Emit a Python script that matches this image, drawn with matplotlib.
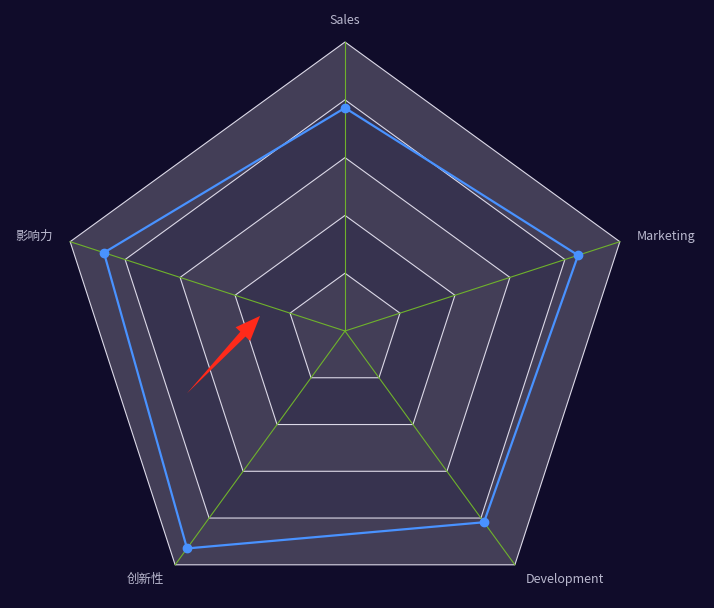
import numpy as np
import matplotlib.pyplot as plt
from matplotlib.patches import Polygon

plt.rcParams['font.family'] = ['Noto Sans CJK SC', 'DejaVu Sans']

# radar data (fraction of each indicator's max)
indicators = ['Sales', 'Marketing', 'Development', '创新性', '影响力']
values = [0.772, 0.848, 0.818, 0.93, 0.877]
levels = [0.2, 0.4, 0.6, 0.8, 1.0]

bg = '#100c2a'
band_light = '#433e57'
band_dark = '#37334f'
axis_green = '#6fb22c'
split_color = '#dcd9e8'
line_blue = '#4992ff'
label_color = '#b9b8ce'

W, H = 714, 608
cx, cy, R = 345, 331, 289  # radar centre / radius in pixels

fig = plt.figure(figsize=(W / 100, H / 100), dpi=100, facecolor=bg)
ax = fig.add_axes([0, 0, 1, 1])
ax.set_facecolor(bg)
ax.set_xlim(-cx / R, (W - cx) / R)
ax.set_ylim(-(H - cy) / R, cy / R)
ax.axis('off')

n = len(indicators)
ang = np.deg2rad(90 - 360 / n * np.arange(n))
ux, uy = np.cos(ang), np.sin(ang)

# split areas, drawn from outside in
for i in range(len(levels) - 1, -1, -1):
    r = levels[i]
    color = band_light if i % 2 == 0 else band_dark
    ax.add_patch(Polygon(np.c_[ux * r, uy * r], closed=True, facecolor=color,
                         edgecolor='none', zorder=1))
for r in levels:
    ax.add_patch(Polygon(np.c_[ux * r, uy * r], closed=True, facecolor='none',
                         edgecolor=split_color, lw=0.8, zorder=2))

# axis lines
for x, y in zip(ux, uy):
    ax.plot([0, x], [0, y], color=axis_green, lw=0.8, zorder=3)

# series
v = np.array(values)
px, py = np.r_[ux * v, ux[0] * v[0]], np.r_[uy * v, uy[0] * v[0]]
ax.plot(px, py, color=line_blue, lw=1.6, zorder=4)
ax.plot(ux * v, uy * v, 'o', color=line_blue, ms=6, zorder=5)

# indicator names
for name, x, y in zip(indicators, ux, uy):
    if abs(x) < 1e-6:
        ha, va, gap = 'center', 'bottom', (R + 15) / R
    else:
        ha, va, gap = ('left' if x > 0 else 'right'), 'center', (R + 18) / R
    ax.text(x * gap, y * gap, name, color=label_color, fontsize=9, ha=ha, va=va, zorder=6)

# red arrow annotation
tail = np.array([-0.547, -0.216])
tip = np.array([-0.294, 0.052])
d = tip - tail
d = d / np.hypot(*d)
nrm = np.array([-d[1], d[0]])
head_len, head_w, shaft_w = 25 / R, 10 / R, 3.5 / R
base = tip - d * head_len
pts = [tail, base + nrm * shaft_w, base + nrm * head_w, tip,
       base - nrm * head_w, base - nrm * shaft_w]
ax.add_patch(Polygon(pts, closed=True, facecolor='#ff2a1a', edgecolor='none', zorder=7))

fig.savefig('out.png', dpi=100, facecolor=bg)
